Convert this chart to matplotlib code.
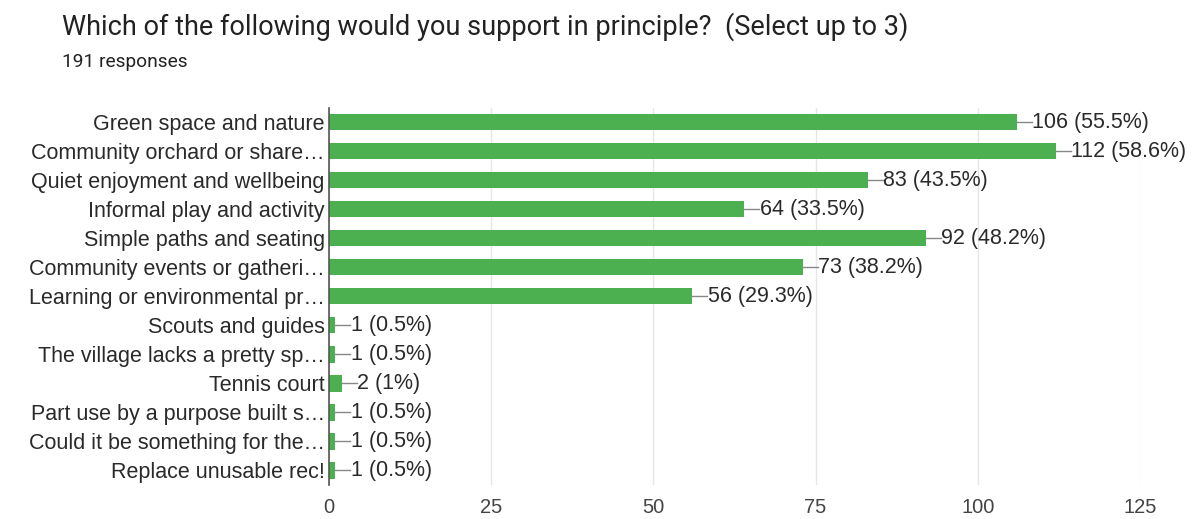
import matplotlib
matplotlib.use("Agg")
import matplotlib.pyplot as plt

categories = [
    "Green space and nature",
    "Community orchard or share…",
    "Quiet enjoyment and wellbeing",
    "Informal play and activity",
    "Simple paths and seating",
    "Community events or gatheri…",
    "Learning or environmental pr…",
    "Scouts and guides",
    "The village lacks a pretty sp…",
    "Tennis court",
    "Part use by a purpose built s…",
    "Could it be something for the…",
    "Replace unusable rec!",
]
counts = [106, 112, 83, 64, 92, 73, 56, 1, 1, 2, 1, 1, 1]
pct_labels = ["55.5%", "58.6%", "43.5%", "33.5%", "48.2%", "38.2%", "29.3%",
              "0.5%", "0.5%", "1%", "0.5%", "0.5%", "0.5%"]
xticks = [0, 25, 50, 75, 100, 125]

plt.rcParams['font.family'] = ['Liberation Sans', 'DejaVu Sans']

fig = plt.figure(figsize=(11.95, 5.19), dpi=100)
ax = fig.add_axes([0.2753, 0.0655, 0.6787, 0.727])

green = '#4caf50'
y = list(range(len(categories)))
ax.barh(y, counts, height=0.56, color=green, zorder=3)
ax.set_ylim(len(categories) - 0.5, -0.5)
ax.set_xlim(0, 125)
ax.set_xticks(xticks)
ax.set_xticklabels([str(t) for t in xticks], fontsize=14.5, color='#444444')
ax.set_yticks(y)
ax.set_yticklabels(categories, fontsize=15.5, color='#2a2a2a')
ax.tick_params(axis='both', length=0)
ax.tick_params(axis='x', pad=9)
ax.tick_params(axis='y', pad=3)
ax.grid(axis='x', color='#e6e6e6', linewidth=1, zorder=0)
for s in ['top', 'right', 'bottom']:
    ax.spines[s].set_visible(False)
ax.spines['left'].set_color('#555555')
ax.spines['left'].set_linewidth(1.2)
ax.spines['left'].set_zorder(4)

px = 125 / (1140 - 329)
for yi, c, p in zip(y, counts, pct_labels):
    ax.plot([c, c + 15 * px], [yi, yi], color='#888888', linewidth=1, zorder=4)
    ax.text(c + 15.5 * px, yi, f"{c} ({p})", va='center', ha='left',
            fontsize=15.5, color='#2a2a2a', zorder=5)

fig.text(62 / 1195, 1 - 27 / 519, "Which of the following would you support in principle?  (Select up to 3)",
         fontsize=19.5, color='#222222', va='center', ha='left', family=['Roboto', 'DejaVu Sans'])
fig.text(62 / 1195, 1 - 62 / 519, "191 responses", fontsize=13.8, color='#222222',
         va='center', ha='left', family=['Roboto', 'DejaVu Sans'])

fig.savefig("out.png", dpi=100)
